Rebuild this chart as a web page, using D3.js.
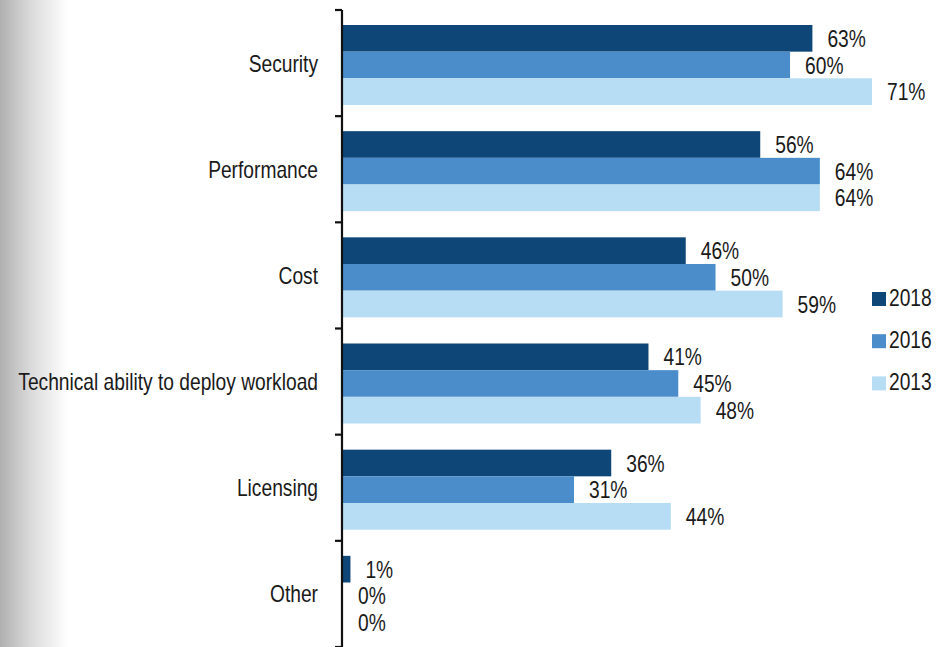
<!DOCTYPE html>
<html><head><meta charset="utf-8">
<script src="https://cdn.jsdelivr.net/npm/d3@7"></script>
<style>
html,body{margin:0;padding:0;background:#fff;}
svg{display:block;}
text{font-family:"Liberation Sans",Arial,sans-serif;fill:#1a1a1a;}
</style></head>
<body>
<svg id="chart" width="951" height="647"></svg>
<script>
const categories = ["Security","Performance","Cost","Technical ability to deploy workload","Licensing","Other"];
const seriesNames = ["2018","2016","2013"];
const values2018 = [63,56,46,41,36,1];
const values2016 = [60,64,50,45,31,0];
const values2013 = [71,64,59,48,44,0];
const colors = ["#0e4678","#4a8dca","#b6ddf4"];

const seriesValues = [values2018, values2016, values2013];
const svg = d3.select("#chart");
const W = 951, H = 647;
const FS = 24, SX = 0.80;

// left gray gradient strip
const defs = svg.append("defs");
const grad = defs.append("linearGradient").attr("id","lg").attr("x1","0").attr("x2","1").attr("y1","0").attr("y2","0");
grad.append("stop").attr("offset","0").attr("stop-color","#b0b0b0");
grad.append("stop").attr("offset","0.45").attr("stop-color","#dadada");
grad.append("stop").attr("offset","1").attr("stop-color","#ffffff");
svg.append("rect").attr("x",0).attr("y",0).attr("width",68).attr("height",H).attr("fill","url(#lg)");

const x0 = 343;
const x = d3.scaleLinear().domain([0,71]).range([x0,872]);
const y = d3.scaleBand().domain(categories).range([10,647]).padding(0);
const y1 = d3.scaleBand().domain(seriesNames).range([15,95]).padding(0);

function addText(g, tx, ty, str, anchor){
  g.append("text")
    .attr("transform",`translate(${tx},${ty}) scale(${SX},1)`)
    .attr("text-anchor",anchor)
    .attr("font-size",FS)
    .text(str);
}

// bars
const groups = svg.append("g").selectAll("g").data(categories).join("g")
  .attr("transform",d=>`translate(0,${y(d)})`);
groups.each(function(cat,i){
  const g = d3.select(this);
  seriesNames.forEach((s,j)=>{
    const v = seriesValues[j][i];
    g.append("rect")
      .attr("x",x(0)).attr("y",y1(s))
      .attr("width",Math.max(0,x(v)-x(0)))
      .attr("height",y1.bandwidth())
      .attr("fill",colors[j]);
  });
  seriesNames.forEach((s,j)=>{
    const v = seriesValues[j][i];
    addText(g, x(v)+15, y1(s)+y1.bandwidth()/2+8.5, v+"%", "start");
  });
});

// axis
const axis = svg.append("g");
axis.append("line").attr("x1",342).attr("x2",342).attr("y1",10).attr("y2",H)
  .attr("stroke","#111").attr("stroke-width",2.2);
const tickYs = categories.map(c=>y(c)).concat([y.range()[1]]);
axis.selectAll("line.tick").data(tickYs).join("line").attr("class","tick")
  .attr("x1",335).attr("x2",342).attr("y1",d=>d).attr("y2",d=>d)
  .attr("stroke","#111").attr("stroke-width",2.2);

// category labels
categories.forEach(c=>{
  addText(svg, 318, y(c)+y.bandwidth()/2+8.5, c, "end");
});

// legend
const leg = svg.append("g");
seriesNames.forEach((s,j)=>{
  const ly = 292 + j*42.2;
  leg.append("rect").attr("x",872).attr("y",ly).attr("width",14).attr("height",14).attr("fill",colors[j]);
  addText(leg, 889, ly+14, s, "start");
});
</script>
</body></html>
